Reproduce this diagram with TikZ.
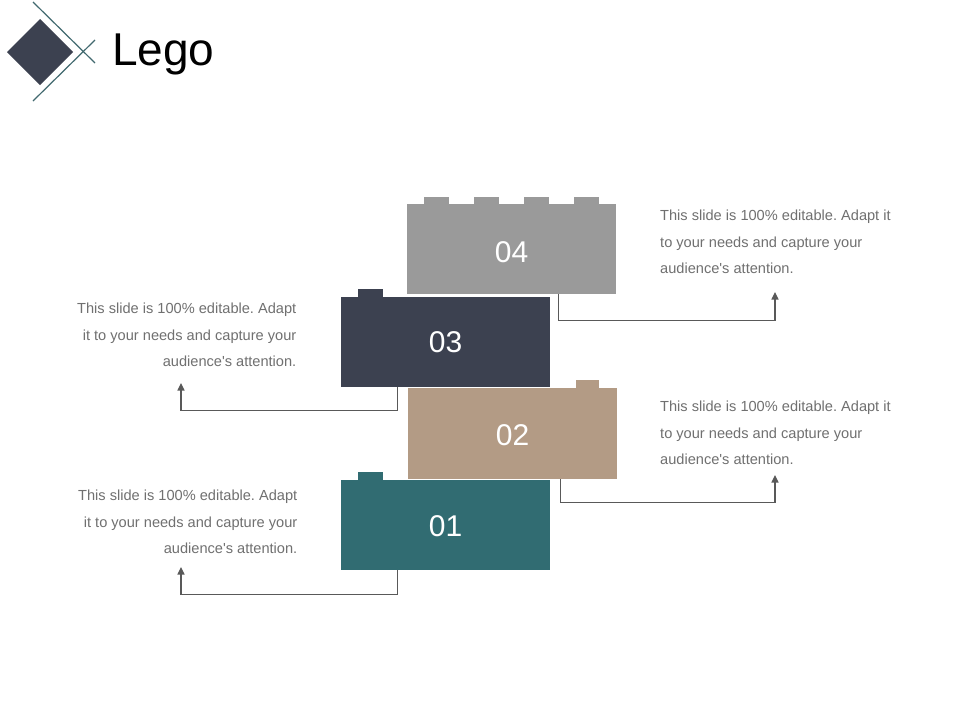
\documentclass[tikz,border=0pt]{standalone}
\usepackage{fontspec}
\setmainfont{Liberation Sans}[Ligatures=TeXOff]
\usetikzlibrary{arrows.meta,calc}
\definecolor{cgray}{HTML}{9A9A9A}
\definecolor{cdark}{HTML}{3C4150}
\definecolor{ctan}{HTML}{B39B85}
\definecolor{cteal}{HTML}{316C72}
\definecolor{clogo}{HTML}{41696F}
\definecolor{ctext}{HTML}{707070}
\definecolor{cline}{HTML}{595959}
\frenchspacing
\tikzset{
  x=1pt,y=-1pt,
  brick/.style={inner sep=0pt,minimum width=209pt,minimum height=90pt,text=white,font=\fontsize{30}{36}\selectfont},
  desc/.style={inner sep=0pt,text=ctext,font=\frenchspacing\fontsize{14.6}{26.4}\selectfont},
  conn/.style={draw=cline,line width=1.1pt,-{Triangle[length=7.5pt,width=7pt]}},
}
\begin{document}
\begin{tikzpicture}
\useasboundingbox[fill=white] (0,0) rectangle (960,720);
% logo
\fill[cdark] (7,52) -- (40,19) -- (73,52) -- (40,85) -- cycle;
\draw[clogo,line width=1.2pt] (33,2) -- (95,63);
\draw[clogo,line width=1.2pt] (33,101) -- (95,40);
\node[anchor=base west,inner sep=0pt,font=\fontsize{46}{52}\selectfont] (title) at (112,65) {Lego};
% bricks
\node[brick,fill=cteal,text height=23.5pt,text depth=0pt] (b1) at (445.5,525) {01};
\fill[cteal] ($(b1.north west)+(17,0)$) rectangle ++(25,-8);
\node[brick,fill=ctan,minimum height=91pt,text height=23.5pt,text depth=0pt] (b2) at (512.5,433.5) {02};
\fill[ctan] ($(b2.north west)+(168,0)$) rectangle ++(23,-8);
\node[brick,fill=cdark] (b3) at (445.5,342) {03};
\fill[cdark] ($(b3.north west)+(17,0)$) rectangle ++(25,-8);
\node[brick,fill=cgray,text height=27.5pt,text depth=0pt] (b4) at (511.5,249) {04};
\foreach \i in {0,1,2,3}{
  \fill[cgray] ($(b4.north west)+(17+50*\i,0)$) rectangle ++(25,-7);
}
% descriptions
\node[desc,anchor=north west,align=left] (d4) at (660,210) {This slide is 100\% editable. Adapt it\\to your needs and capture your\\audience's attention.};
\node[desc,anchor=north east,align=right] (d3) at (296.5,303) {This slide is 100\% editable. Adapt\\it to your needs and capture your\\audience's attention.};
\node[desc,anchor=north west,align=left] (d2) at (660,401) {This slide is 100\% editable. Adapt it\\to your needs and capture your\\audience's attention.};
\node[desc,anchor=north east,align=right] (d1) at (297.5,490) {This slide is 100\% editable. Adapt\\it to your needs and capture your\\audience's attention.};
% connectors
\coordinate (t4) at (775,292);
\coordinate (t3) at (181,383);
\coordinate (t2) at (775,475);
\coordinate (t1) at (181,567);
\draw[conn] ($(b4.south west)+(152,0)$) -- ++(0,26) -| (t4);
\draw[conn] ($(b3.south west)+(57,0)$) -- ++(0,23) -| (t3);
\draw[conn] ($(b2.south west)+(153,0)$) -- ++(0,23) -| (t2);
\draw[conn] ($(b1.south west)+(57,0)$) -- ++(0,24) -| (t1);
\end{tikzpicture}
\end{document}
